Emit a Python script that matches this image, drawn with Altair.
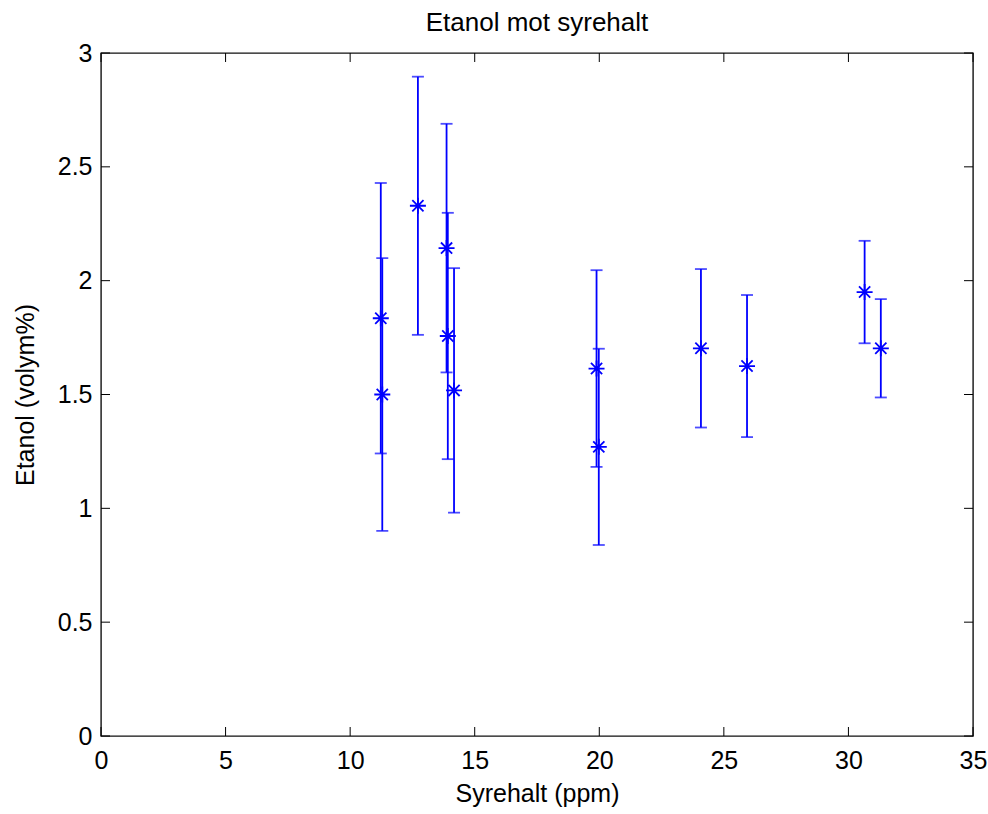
import altair as alt
import pandas as pd

# Values
syrehalt = [11.23, 11.29, 12.72, 13.87, 13.92, 14.17, 19.89, 19.98, 24.08, 25.93, 30.65, 31.30]
etanol = [1.835, 1.500, 2.329, 2.143, 1.757, 1.518, 1.614, 1.270, 1.703, 1.625, 1.950, 1.703]
fel = [0.594, 0.599, 0.567, 0.546, 0.541, 0.537, 0.432, 0.431, 0.348, 0.312, 0.225, 0.216]
x_ticks = [0, 5, 10, 15, 20, 25, 30, 35]
y_ticks = [0, 0.5, 1, 1.5, 2, 2.5, 3]

df = pd.DataFrame({
    "x": syrehalt,
    "y": etanol,
    "lo": [v - e for v, e in zip(etanol, fel)],
    "hi": [v + e for v, e in zip(etanol, fel)],
})
xt = pd.DataFrame({"t": x_ticks})
yt = pd.DataFrame({"t": y_ticks})

W, H = 872, 683
BLUE = "#0000ff"
FONT = "Liberation Sans"
FS = 25
TICK = 9
LW = 1.8

xs = alt.Scale(domain=[0, 35], nice=False, zero=False)
ys = alt.Scale(domain=[0, 3], nice=False, zero=False)

xaxis = alt.Axis(values=x_ticks, title="Syrehalt (ppm)", tickSize=0, domain=False,
                 grid=False, labelPadding=12, titlePadding=8, format="~g",
                 labelFlush=False, labelOverlap=False)
yaxis = alt.Axis(values=y_ticks, title="Etanol (volym%)", tickSize=0, domain=False,
                 grid=False, labelPadding=9, titlePadding=19, format="~g",
                 labelFlush=False, labelOverlap=False)

base = alt.Chart(df)

bars = base.mark_rule(color=BLUE, strokeWidth=LW).encode(
    x=alt.X("x:Q", scale=xs, axis=xaxis),
    y=alt.Y("lo:Q", scale=ys, axis=yaxis),
    y2="hi:Q",
)
cap_lo = base.mark_tick(color=BLUE, size=12, thickness=LW, orient="horizontal").encode(
    x=alt.X("x:Q", scale=xs, axis=xaxis), y=alt.Y("lo:Q", scale=ys, axis=yaxis)
)
cap_hi = base.mark_tick(color=BLUE, size=12, thickness=LW, orient="horizontal").encode(
    x=alt.X("x:Q", scale=xs, axis=xaxis), y=alt.Y("hi:Q", scale=ys, axis=yaxis)
)
star = "M-1,0L1,0M0,-1L0,1M-0.7,-0.7L0.7,0.7M-0.7,0.7L0.7,-0.7"
points = base.mark_point(shape=star, size=256, filled=False, stroke=BLUE,
                         strokeWidth=LW, opacity=1).encode(
    x=alt.X("x:Q", scale=xs, axis=xaxis), y=alt.Y("y:Q", scale=ys, axis=yaxis)
)

tick_bottom = alt.Chart(xt).mark_rule(color="black").encode(
    x=alt.X("t:Q", scale=xs, axis=xaxis), y=alt.value(H), y2=alt.value(H - TICK))
tick_top = alt.Chart(xt).mark_rule(color="black").encode(
    x=alt.X("t:Q", scale=xs, axis=xaxis), y=alt.value(0), y2=alt.value(TICK))
tick_left = alt.Chart(yt).mark_rule(color="black").encode(
    y=alt.Y("t:Q", scale=ys, axis=yaxis), x=alt.value(0), x2=alt.value(TICK))
tick_right = alt.Chart(yt).mark_rule(color="black").encode(
    y=alt.Y("t:Q", scale=ys, axis=yaxis), x=alt.value(W - TICK), x2=alt.value(W))

chart = alt.layer(
    bars, cap_lo, cap_hi, points, tick_bottom, tick_top, tick_left, tick_right
).properties(
    width=W,
    height=H,
    title=alt.TitleParams("Etanol mot syrehalt", font=FONT, fontSize=26,
                          fontWeight="normal", color="black", anchor="middle",
                          offset=5),
    padding={"left": 101, "top": 53, "right": 15, "bottom": 78},
    autosize=alt.AutoSizeParams(type="none"),
    background="white",
).configure_view(
    stroke="#111111", strokeWidth=1.4
).configure_axis(
    labelFont=FONT, titleFont=FONT, labelFontSize=FS, titleFontSize=FS,
    labelColor="black", titleColor="black", titleFontWeight="normal"
)

chart.save("out.html", embed_options={"renderer": "svg", "actions": False})
